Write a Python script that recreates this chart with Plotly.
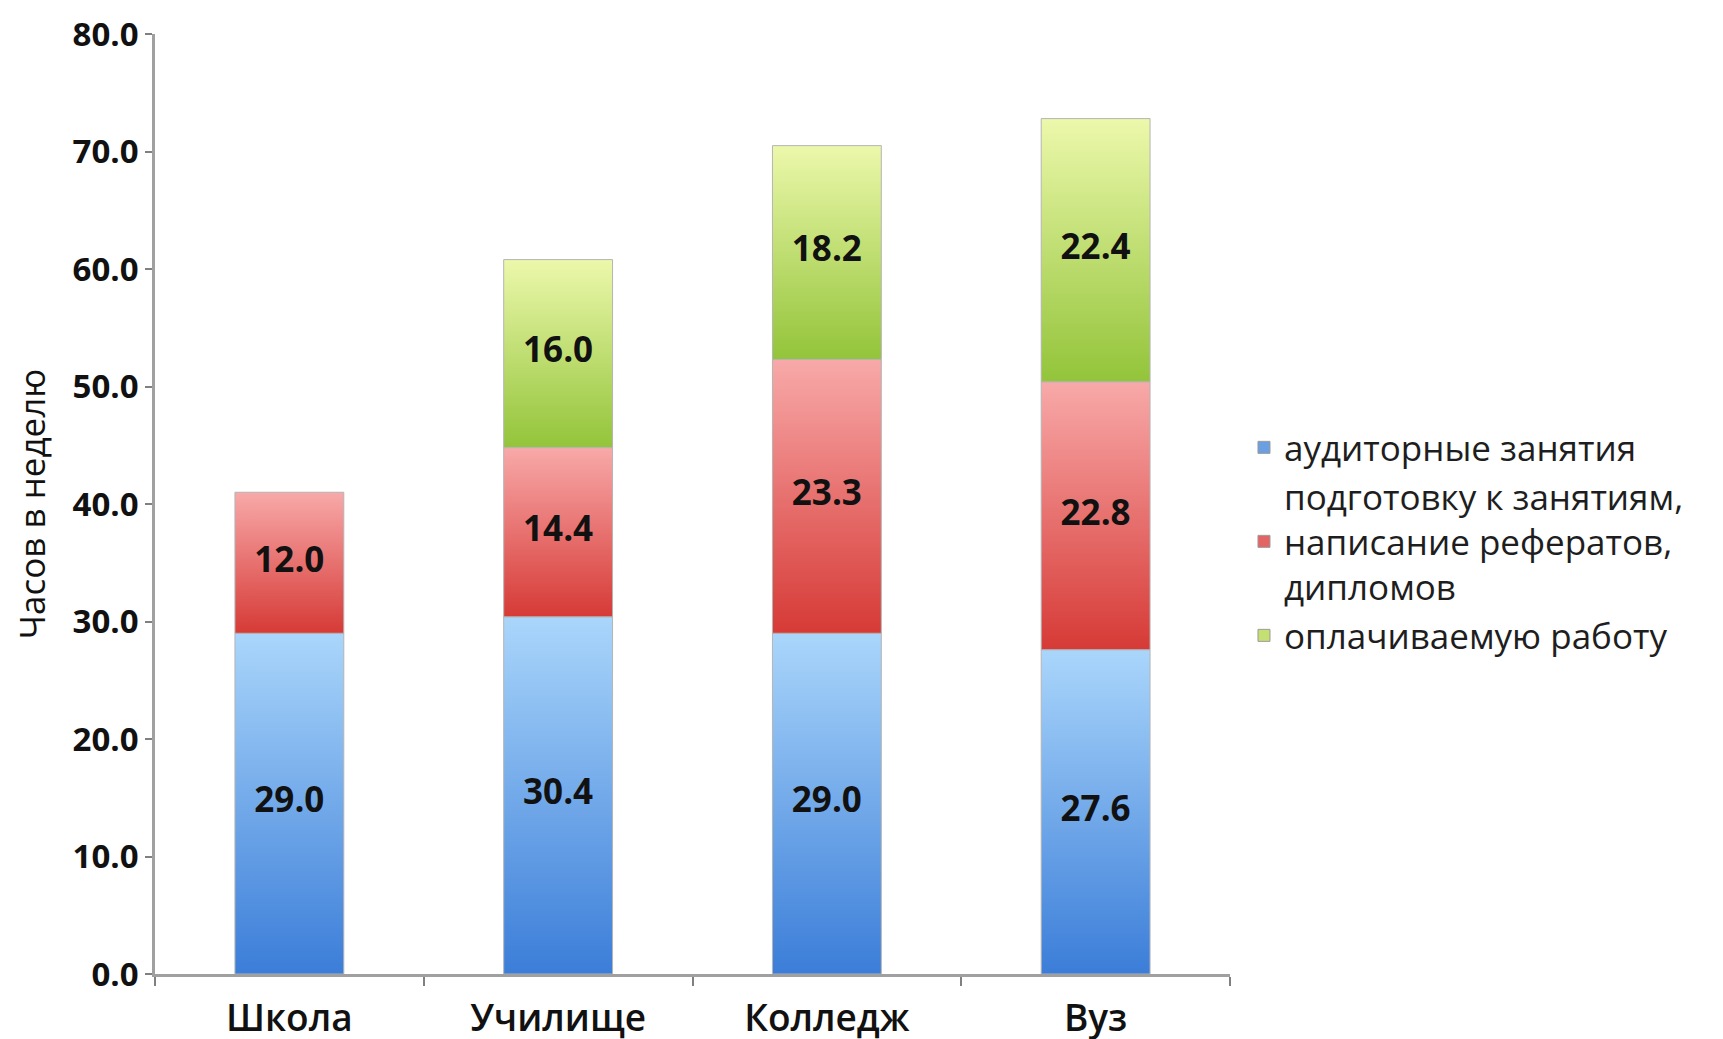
import plotly.graph_objects as go

categories = ["Школа", "Училище", "Колледж", "Вуз"]
auditory = [29.0, 30.4, 29.0, 27.6]
prep = [12.0, 14.4, 23.3, 22.8]
paid = [None, 16.0, 18.2, 22.4]

series_names = [
    "аудиторные занятия",
    "подготовку к занятиям,<br>написание рефератов,<br>дипломов",
    "оплачиваемую работу",
]
# (bottom colour, top colour, legend swatch colour)
gradients = [
    ("#3b7dd8", "#aad6fb", "#6a9fe2"),
    ("#d63a36", "#f8a9a9", "#e46464"),
    ("#93c43a", "#ecf8ab", "#c4df72"),
]
y_ticks = [0, 10, 20, 30, 40, 50, 60, 70, 80]

BAR_W = 0.405
FONT = "Open Sans"
positions = list(range(len(categories)))

fig = go.Figure()

# stacked bars drawn as gradient-filled shapes on the data axes
bases = [0.0] * len(categories)
label_x, label_y, label_t = [], [], []
for vals, (c_bot, c_top, _) in zip([auditory, prep, paid], gradients):
    for i, v in zip(positions, vals):
        if v is None:
            continue
        b = bases[i]
        fig.add_trace(go.Scatter(
            x=[i - BAR_W / 2, i + BAR_W / 2, i + BAR_W / 2, i - BAR_W / 2, i - BAR_W / 2],
            y=[b, b, b + v, b + v, b],
            mode="lines", fill="toself",
            fillgradient=dict(type="vertical", colorscale=[[0, c_bot], [1, c_top]]),
            line=dict(color="#b4b4b4", width=1),
            showlegend=False, hoverinfo="skip",
        ))
        label_x.append(i)
        label_y.append(b + v / 2)
        label_t.append(f"{v:.1f}")
        bases[i] = b + v

# value labels
fig.add_trace(go.Scatter(
    x=label_x, y=label_y, text=label_t, mode="text",
    textfont=dict(family=FONT, size=35, color="#111111", weight="bold"),
    showlegend=False, hoverinfo="skip",
))

# legend entries
for name, (_, _, sw) in zip(series_names, gradients):
    fig.add_trace(go.Scatter(
        x=[None], y=[None], mode="markers", name=name,
        marker=dict(symbol="square", size=12, color=sw, line=dict(color="#9a9a9a", width=1)),
    ))

fig.update_layout(
    width=1723, height=1039,
    margin=dict(l=147, r=501, t=26, b=73),
    plot_bgcolor="white", paper_bgcolor="white",
    font=dict(family=FONT, color="#111111"),
    legend=dict(x=1.013, y=0.46, xanchor="left", yanchor="middle",
                font=dict(family=FONT, size=35, color="#1e1e1e"),
                itemwidth=30, traceorder="normal", valign="middle"),
    showlegend=True,
)
fig.update_xaxes(
    range=[-0.5, len(categories) - 0.5], tickvals=positions, ticktext=categories,
    showgrid=False, zeroline=False, automargin=False,
    showline=True, linecolor="#a0a0a0", linewidth=2.5,
    ticks="", ticklabelstandoff=10,
    minor=dict(tickvals=[p - 0.5 for p in positions] + [positions[-1] + 0.5],
               ticks="outside", ticklen=9, tickcolor="#808080", tickwidth=1.5, showgrid=False),
    tickfont=dict(family=FONT, size=37, color="#111111", weight=600),
)
fig.update_yaxes(
    range=[0, 80], tickvals=y_ticks, tickformat=".1f", showgrid=False, zeroline=False,
    automargin=False,
    showline=True, linecolor="#a0a0a0", linewidth=2.5,
    ticks="outside", ticklen=7, tickcolor="#808080", tickwidth=1.5,
    tickfont=dict(family=FONT, size=33, color="#111111", weight="bold"),
    title=dict(text="Часов в неделю", font=dict(family=FONT, size=35, color="#111111"), standoff=28),
)
fig.write_html("out.html")
